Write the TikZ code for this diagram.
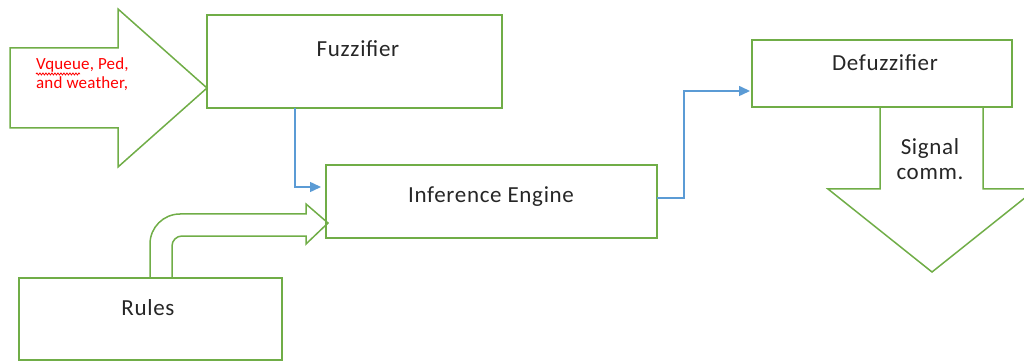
\documentclass[tikz,border=0pt]{standalone}
\usepackage{fontspec}
\setmainfont{Carlito}
\usetikzlibrary{arrows.meta,decorations.pathmorphing}
\definecolor{grn}{HTML}{70AD47}
\definecolor{blu}{HTML}{5B9BD5}
\definecolor{txt}{HTML}{262626}
\begin{document}
\begin{tikzpicture}[x=1pt,y=-1pt,
  box/.style={draw=grn, line width=1.5pt, inner sep=0pt, outer sep=0pt, rectangle},
  blockarrow/.style={draw=grn, line width=1.5pt, line join=miter},
  conn/.style={draw=blu, line width=1.5pt, -{Triangle[length=11pt,width=10pt]}},
  lbl/.style={text=txt, font=\fontsize{23}{26}\selectfont\addfontfeatures{LetterSpace=3}, anchor=base, inner sep=0pt},
  redlbl/.style={text=red, font=\fontsize{17}{19}\selectfont\addfontfeatures{LetterSpace=1}, anchor=base west, inner sep=0pt}]
\useasboundingbox (0,0) rectangle (1024,363);
\clip (0,0) rectangle (1024,363);
% boxes
\node[box, minimum width=295pt, minimum height=93pt] (fuzz) at (354.5,61.5) {};
\node[box, minimum width=331pt, minimum height=73pt] (inf) at (491.5,201.5) {};
\node[box, minimum width=260pt, minimum height=67pt] (defz) at (882,73.5) {};
\node[box, minimum width=263pt, minimum height=82pt] (rules) at (150.5,319) {};
% block arrows
\draw[blockarrow] (10,48) -- (118,48) -- (118,9) -- (207,88) -- (118,167) -- (118,128) -- (10,128) -- cycle;
\draw[blockarrow] (150,278) -- (150,244) .. controls (150,227.4) and (163.4,214) .. (180,214)
  -- (306,214) -- (306,204) -- (328,223) -- (306,244) -- (306,236) -- (182,236)
  .. controls (176.5,236) and (172,240.5) .. (172,246) -- (172,278);
\draw[blockarrow] (880,107) -- (880,189) -- (828,189) -- (932,272) -- (1036,189) -- (983,189) -- (983,107);
% connectors
\draw[conn, shorten >=5pt] ([xshift=88pt]fuzz.south west) |- ([yshift=14.5pt]inf.west);
\draw[conn, shorten >=2pt] ([yshift=3.5pt]inf.east) -- ++(27,0) |- ([yshift=-17.5pt]defz.west);
% texts
\node[lbl] (tfuzz) at (358,57) {Fuzzifier};
\node[lbl] (tinf) at (491,203) {Inference Engine};
\node[lbl] (tdefz) at (885,71) {Defuzzifier};
\node[lbl] (trules) at (148,315) {Rules};
\node[lbl] (tsig1) at (930,155) {Signal};
\node[lbl] (tsig2) at (930,180) {comm.};
\node[redlbl] (tin1) at (36,70) {Vqueue, Ped,};
\node[redlbl] (tin2) at (36,89) {and weather,};
\draw[red, line width=0.8pt, decorate, decoration={snake, amplitude=1pt, segment length=3pt}] (36,74) -- (80,74);
\end{tikzpicture}
\end{document}
